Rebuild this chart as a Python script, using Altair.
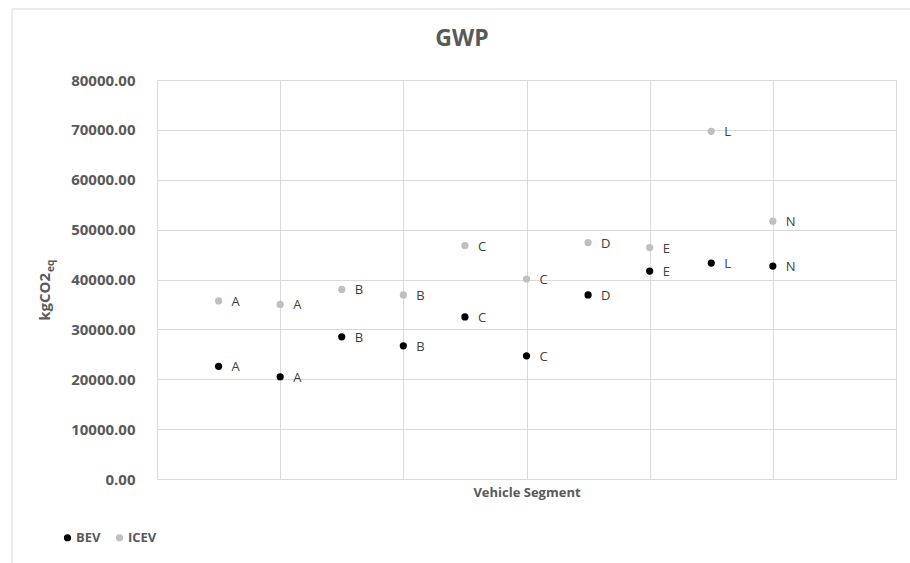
import altair as alt
import pandas as pd

# Data
x_pos = [1, 2, 3, 4, 5, 6, 7, 8, 9, 10]
segments = ["A", "A", "B", "B", "C", "C", "D", "E", "L", "N"]
bev = [22600, 20500, 28500, 26700, 32500, 24700, 36900, 41700, 43300, 42700]
icev = [35700, 35000, 38000, 36900, 46800, 40100, 47400, 46400, 69700, 51700]
series_names = ["BEV", "ICEV"]
series_colors = ["#000000", "#BFBFBF"]
y_ticks = [0, 10000, 20000, 30000, 40000, 50000, 60000, 70000, 80000]
x_grid = [0, 2, 4, 6, 8, 10, 12]
chart_title = "GWP"

rows = []
for name, vals in (("ICEV", icev), ("BEV", bev)):
    for xp, seg, v in zip(x_pos, segments, vals):
        rows.append({"pos": xp, "segment": seg, "value": v, "series": name})
df = pd.DataFrame(rows)

FONT = "Open Sans"
GRID = "#D9D9D9"
TXT = "#595959"

W, H = 739, 399

x_enc = alt.X("pos:Q", scale=alt.Scale(domain=[0, 12], nice=False),
              axis=alt.Axis(values=x_grid, labels=False, ticks=False, domain=False,
                            grid=True, gridColor=GRID, title="Vehicle Segment",
                            titleFont=FONT, titleFontSize=13, titleFontWeight="bold",
                            titleColor=TXT, titlePadding=7))
y_enc = alt.Y("value:Q", scale=alt.Scale(domain=[0, 80000], nice=False),
              axis=alt.Axis(values=y_ticks, format=".2f", ticks=False, domain=False,
                            grid=True, gridColor=GRID, title=None,
                            labelFont=FONT, labelFontSize=15, labelFontWeight="bold",
                            labelColor=TXT, labelPadding=22))

base = alt.Chart(df)

points = base.mark_point(filled=True, shape="circle", size=52, opacity=1).encode(
    x=x_enc, y=y_enc,
    color=alt.Color("series:N",
                    scale=alt.Scale(domain=series_names, range=series_colors),
                    legend=alt.Legend(title=None, orient="none", direction="horizontal",
                                      legendX=-96, legendY=451,
                                      symbolType="circle", symbolSize=52,
                                      symbolStrokeWidth=0, symbolOpacity=1,
                                      labelFont=FONT, labelFontSize=13,
                                      labelFontWeight="bold", labelColor=TXT,
                                      labelOffset=2, columnPadding=12)),
)

labels = base.mark_text(align="left", baseline="middle", dx=13, dy=1,
                        font=FONT, fontSize=13, color="#404040").encode(
    x=alt.X("pos:Q"), y=alt.Y("value:Q"), text="segment:N"
)

title_mark = alt.Chart(pd.DataFrame({"t": [chart_title]})).mark_text(
    align="center", baseline="middle", font=FONT, fontSize=23,
    fontWeight="bold", color=TXT
).encode(x=alt.value(305), y=alt.value(-41), text="t:N")

ytitle_main = alt.Chart(pd.DataFrame({"t": ["kgCO2"]})).mark_text(
    angle=270, align="right", baseline="middle", font=FONT, fontSize=15,
    fontWeight="bold", color=TXT
).encode(x=alt.value(-112), y=alt.value(193), text="t:N")

ytitle_sub = alt.Chart(pd.DataFrame({"t": ["eq"]})).mark_text(
    angle=270, align="left", baseline="middle", font=FONT, fontSize=10,
    fontWeight="bold", color=TXT
).encode(x=alt.value(-106), y=alt.value(192), text="t:N")

frame = alt.Chart(pd.DataFrame({"a": [0]})).mark_rect(
    fill=None, stroke=GRID, strokeWidth=1
).encode(x=alt.value(-145), x2=alt.value(800), y=alt.value(-71), y2=alt.value(600))

chart = alt.layer(frame, points, labels, title_mark, ytitle_main, ytitle_sub).properties(
    width=W, height=H,
    autosize=alt.AutoSizeParams(type="none"),
    padding={"left": 157, "top": 80, "right": 14, "bottom": 84},
).configure_view(stroke=GRID).configure(background="white")

chart.save("out.html", embed_options={"renderer": "svg", "actions": False})
